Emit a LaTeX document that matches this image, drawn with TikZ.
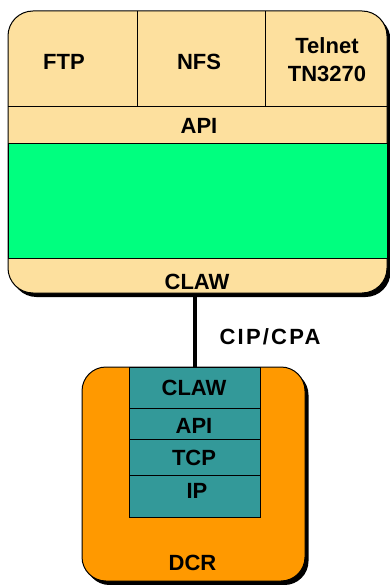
\documentclass[tikz,border=0pt]{standalone}
\usepackage{fontspec}
\setmainfont{Liberation Sans}
\usetikzlibrary{shadows}
\definecolor{tanfill}{HTML}{FDE09E}
\definecolor{mint}{HTML}{00FF7F}
\definecolor{orng}{HTML}{FF9900}
\definecolor{tealfill}{HTML}{339999}
\begin{document}
\begin{tikzpicture}[x=1pt,y=-1pt,
  lbl/.style={font=\fontsize{22}{28}\selectfont\bfseries, inner sep=0pt, align=center, text=black},
  edge/.style={draw=black, line width=1pt},
  shad/.style={drop shadow={shadow xshift=3.5pt, shadow yshift=-4pt, opacity=1, fill=black}}]
\useasboundingbox (0,0) rectangle (390,585);
\fill[white] (0,0) rectangle (390,585);

% host box
\draw[edge, fill=tanfill, rounded corners=25pt, shad] (8,11) rectangle (387,293);
\draw[edge, fill=mint] (8,144) rectangle (387,258);
\draw[edge] (8,107) -- (387,107);
\draw[edge] (137,11) -- (137,107);
\draw[edge] (265,11) -- (265,107);

\node[lbl] (ftp) at (64,62) {FTP};
\node[lbl] (nfs) at (199,62) {NFS};
\node[lbl] (tel) at (327,60) {Telnet\\TN3270};
\node[lbl] (hapi) at (199,126) {API};
\node[lbl] (hclaw) at (197,282) {CLAW};

% DCR box
\draw[edge, fill=orng, rounded corners=24pt, shad] (82,367) rectangle (305,581);
\draw[edge, fill=tealfill] (129,367) rectangle (260,517);
\draw[edge] (129,408) -- (260,408);
\draw[edge] (129,439) -- (260,439);
\draw[edge] (129,475) -- (260,475);

\node[lbl] (dclaw) at (194,388) {CLAW};
\node[lbl] (dapi) at (194,426) {API};
\node[lbl] (dtcp) at (194,458) {TCP};
\node[lbl] (dip) at (197,491) {IP};
\node[lbl] (dcr) at (192.5,563) {DCR};

% connector
\coordinate (top) at (195,293.5);
\coordinate (bot) at (195,367);
\draw[line width=3.5pt] (top) -- (bot);
\node[lbl, font=\fontsize{22}{28}\selectfont\bfseries\addfontfeature{LetterSpace=10}] (cip) at (270,337) {CIP/CPA};
\end{tikzpicture}
\end{document}
